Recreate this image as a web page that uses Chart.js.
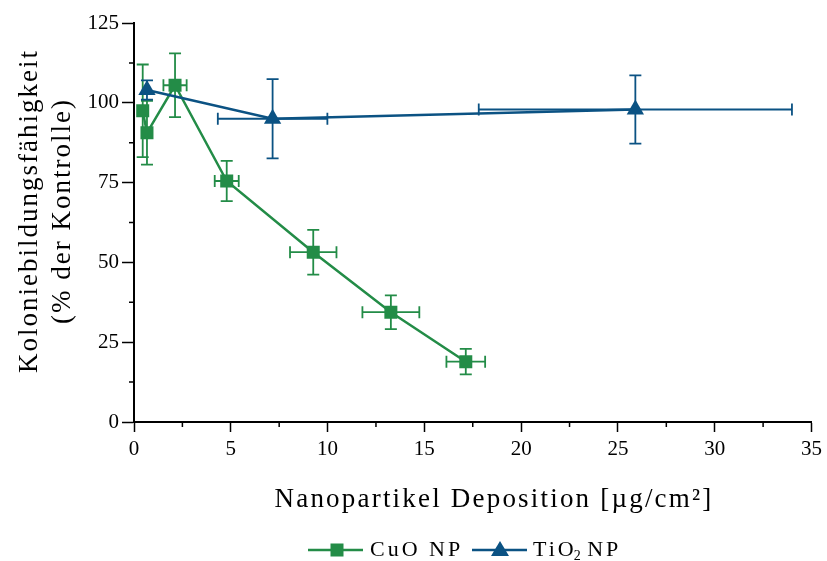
<!DOCTYPE html>
<html>
<head>
<meta charset="utf-8">
<script src="https://cdn.jsdelivr.net/npm/chart.js@4.4.1/dist/chart.umd.min.js"></script>
<style>
  html, body { margin: 0; padding: 0; background: #fff; }
  #wrap { width: 827px; height: 561px; }
</style>
</head>
<body>
<div id="wrap"><canvas id="chart" width="827" height="561"></canvas></div>
<script>
// CuO NP series (x = deposition, y = % of control)
const cuoX    = [0.45, 0.67, 2.12, 4.79, 9.26, 13.27, 17.14];
const cuoY    = [97.5, 90.6, 105.5, 75.5, 53.2, 34.4, 18.9];
const cuoXErr = [0, 0, 0.6, 0.62, 1.2, 1.47, 1.0];
const cuoYErr = [14.5, 10, 10, 6.3, 7, 5.3, 4];

// TiO2 NP series
const tioX    = [0.67, 7.16, 25.9];
const tioY    = [104, 95, 97.9];
const tioXErr = [0, 2.83, 8.09];
const tioYErr = [3, 12.4, 10.7];

// axis ticks
const xMajor = [0, 5, 10, 15, 20, 25, 30, 35];
const xMinor = [2.5, 7.5, 12.5, 17.5, 22.5, 27.5, 32.5];
const yMajor = [0, 25, 50, 75, 100, 125];
const yMinor = [12.5, 37.5, 62.5, 87.5, 112.5];

const GREEN = '#238c47';
const BLUE = '#0b5283';
const SERIF = '"Liberation Serif", "DejaVu Serif", serif';

const toPoints = (xs, ys) => xs.map((v, i) => ({ x: v, y: ys[i] }));

// error bars + minor ticks, drawn with the chart's scales
const errorBars = {
    id: 'errorBars',
    beforeDatasetsDraw(chart) {
        const { ctx, scales: { x, y } } = chart;
        const sets = [
            { xs: cuoX, ys: cuoY, ex: cuoXErr, ey: cuoYErr, color: GREEN },
            { xs: tioX, ys: tioY, ex: tioXErr, ey: tioYErr, color: BLUE }
        ];
        const cap = 6;
        ctx.save();
        ctx.lineWidth = 1.8;
        sets.forEach(s => {
            ctx.strokeStyle = s.color;
            s.xs.forEach((v, i) => {
                const px = x.getPixelForValue(v);
                const py = y.getPixelForValue(s.ys[i]);
                ctx.beginPath();
                if (s.ey[i]) {
                    const t = y.getPixelForValue(s.ys[i] + s.ey[i]);
                    const b = y.getPixelForValue(s.ys[i] - s.ey[i]);
                    ctx.moveTo(px, t); ctx.lineTo(px, b);
                    ctx.moveTo(px - cap, t); ctx.lineTo(px + cap, t);
                    ctx.moveTo(px - cap, b); ctx.lineTo(px + cap, b);
                }
                if (s.ex[i]) {
                    const l = x.getPixelForValue(v - s.ex[i]);
                    const r = x.getPixelForValue(v + s.ex[i]);
                    ctx.moveTo(l, py); ctx.lineTo(r, py);
                    ctx.moveTo(l, py - cap); ctx.lineTo(l, py + cap);
                    ctx.moveTo(r, py - cap); ctx.lineTo(r, py + cap);
                }
                ctx.stroke();
            });
        });
        // minor ticks
        ctx.strokeStyle = '#000';
        ctx.lineWidth = 1.5;
        ctx.beginPath();
        const bottom = chart.chartArea.bottom, left = chart.chartArea.left;
        xMinor.forEach(v => {
            const px = x.getPixelForValue(v);
            ctx.moveTo(px, bottom); ctx.lineTo(px, bottom + 5);
        });
        yMinor.forEach(v => {
            const py = y.getPixelForValue(v);
            ctx.moveTo(left, py); ctx.lineTo(left - 5, py);
        });
        ctx.stroke();
        ctx.restore();
    }
};

// axis titles and legend
const texts = {
    id: 'texts',
    afterDraw(chart) {
        const { ctx } = chart;
        ctx.save();
        ctx.fillStyle = '#000';
        ctx.textAlign = 'center';
        ctx.textBaseline = 'middle';
        ctx.font = '27px ' + SERIF;
        ctx.letterSpacing = '2px';

        ctx.save();
        ctx.translate(30, 211);
        ctx.rotate(-Math.PI / 2);
        ctx.fillText('Koloniebildungsfähigkeit', 0, 0);
        ctx.fillText('(% der Kontrolle)', 0, 33);
        ctx.restore();

        ctx.letterSpacing = '2.2px';
        ctx.fillText('Nanopartikel Deposition [µg/cm²]', 494, 500);

        // legend
        const ly = 550;
        ctx.lineWidth = 2.5;
        ctx.strokeStyle = GREEN;
        ctx.beginPath(); ctx.moveTo(308, ly); ctx.lineTo(363, ly); ctx.stroke();
        ctx.fillStyle = GREEN;
        ctx.fillRect(337 - 6.5, ly - 6.5, 13, 13);
        ctx.strokeStyle = BLUE;
        ctx.beginPath(); ctx.moveTo(472, ly); ctx.lineTo(527, ly); ctx.stroke();
        ctx.fillStyle = BLUE;
        ctx.beginPath();
        ctx.moveTo(500, ly - 9); ctx.lineTo(509, ly + 6); ctx.lineTo(491, ly + 6);
        ctx.closePath(); ctx.fill();

        ctx.fillStyle = '#000';
        ctx.textAlign = 'left';
        ctx.font = '22px ' + SERIF;
        ctx.letterSpacing = '3px';
        ctx.fillText('CuO NP', 370, ly);
        let tx = 533;
        ctx.fillText('TiO', tx, ly);
        tx += ctx.measureText('TiO').width - 3;
        ctx.font = '14px ' + SERIF;
        ctx.letterSpacing = '0px';
        ctx.fillText('2', tx, ly + 6);
        tx += ctx.measureText('2').width - 2;
        ctx.font = '22px ' + SERIF;
        ctx.letterSpacing = '3px';
        ctx.fillText(' NP', tx, ly);
        ctx.restore();
    }
};

new Chart(document.getElementById('chart'), {
    type: 'line',
    data: {
        datasets: [
            {
                label: 'CuO NP',
                data: toPoints(cuoX, cuoY),
                borderColor: GREEN,
                backgroundColor: GREEN,
                borderWidth: 2.5,
                pointStyle: 'rect',
                pointRadius: 9.2,
                pointBorderWidth: 0,
                order: 1
            },
            {
                label: 'TiO2 NP',
                data: toPoints(tioX, tioY),
                borderColor: BLUE,
                backgroundColor: BLUE,
                borderWidth: 2.5,
                pointStyle: 'triangle',
                pointRadius: 10,
                pointBorderWidth: 0,
                order: 0
            }
        ]
    },
    options: {
        responsive: false,
        animation: false,
        layout: { padding: { top: 23, right: 15, left: 0, bottom: 0 } },
        plugins: { legend: { display: false }, tooltip: { enabled: false } },
        scales: {
            x: {
                type: 'linear',
                min: 0, max: 35,
                afterFit: s => { s.height = 139; },
                afterBuildTicks: s => { s.ticks = xMajor.map(v => ({ value: v })); },
                border: { color: '#000', width: 2 },
                grid: { drawOnChartArea: false, color: '#000', tickLength: 10, tickWidth: 1.5 },
                ticks: { color: '#000', padding: 5, font: { family: SERIF, size: 21 } }
            },
            y: {
                type: 'linear',
                min: 0, max: 125,
                afterFit: s => { s.width = 134; },
                afterBuildTicks: s => { s.ticks = yMajor.map(v => ({ value: v })); },
                border: { color: '#000', width: 2 },
                grid: { drawOnChartArea: false, color: '#000', tickLength: 12, tickWidth: 1.5 },
                ticks: { color: '#000', padding: 3, font: { family: SERIF, size: 21 } }
            }
        }
    },
    plugins: [errorBars, texts]
});
</script>
</body>
</html>
